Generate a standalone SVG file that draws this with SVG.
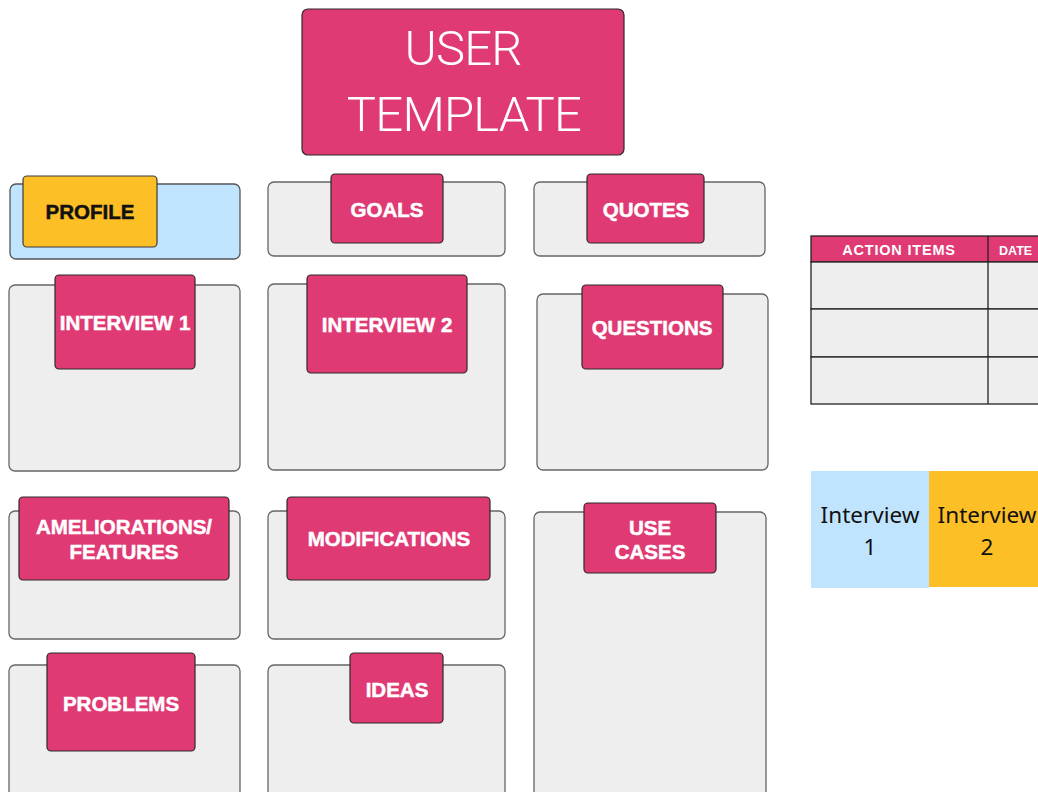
<svg xmlns="http://www.w3.org/2000/svg" width="1038" height="792" viewBox="0 0 1038 792">
  <style>
    .panel { fill: #eeeeee; stroke: #666666; stroke-width: 1.3; }
    .tab { fill: #e03a75; stroke: #2a2a2a; stroke-width: 1.2; }
    .lbl { font-family: "Liberation Sans", Arial, sans-serif; font-weight: 700; font-size: 20.5px; fill: #ffffff; stroke: #ffffff; stroke-width: 0.5; text-anchor: middle; }
    .title { font-family: Roboto, Inter, sans-serif; font-weight: 300; font-size: 49px; letter-spacing: -0.8px; fill: #ffffff; text-anchor: middle; }
    .legend { font-family: "Noto Sans", sans-serif; font-size: 22.5px; fill: #111111; text-anchor: middle; }
    .cell { fill: #eeeeee; stroke: #222222; stroke-width: 1.3; }
    .th { font-family: "Liberation Sans", Arial, sans-serif; font-weight: 700; fill: #ffffff; }
  </style>
  <rect width="1038" height="792" fill="#ffffff"/>

  <g id="title">
    <rect x="302" y="9" width="322" height="146" rx="6" class="tab"/>
    <text x="463" y="65" class="title">USER</text>
    <text x="464" y="131" class="title">TEMPLATE</text>
  </g>

  <g id="profile">
    <rect x="10" y="184" width="230" height="75" rx="6" fill="#c0e4fe" stroke="#555555" stroke-width="1.3"/>
    <rect x="23" y="176" width="134" height="71" rx="4" fill="#fdbf26" stroke="#3a3a3a" stroke-width="1.2"/>
    <text x="90" y="219" class="lbl" style="fill:#111111;stroke:#111111">PROFILE</text>
  </g>

  <g id="goals">
    <rect x="268" y="182" width="237" height="74" rx="6" class="panel"/>
    <rect x="331" y="174" width="112" height="69" rx="4" class="tab"/>
    <text x="387" y="217" class="lbl">GOALS</text>
  </g>

  <g id="quotes">
    <rect x="534" y="182" width="231" height="74" rx="6" class="panel"/>
    <rect x="587" y="174" width="117" height="69" rx="4" class="tab"/>
    <text x="646" y="217" class="lbl">QUOTES</text>
  </g>

  <g id="interview1">
    <rect x="9" y="285" width="231" height="186" rx="6" class="panel"/>
    <rect x="55" y="275" width="140" height="94" rx="4" class="tab"/>
    <text x="125" y="330" class="lbl">INTERVIEW 1</text>
  </g>

  <g id="interview2">
    <rect x="268" y="284" width="237" height="186" rx="6" class="panel"/>
    <rect x="307" y="275" width="160" height="98" rx="4" class="tab"/>
    <text x="387" y="332" class="lbl">INTERVIEW 2</text>
  </g>

  <g id="questions">
    <rect x="537" y="294" width="231" height="176" rx="6" class="panel"/>
    <rect x="582" y="285" width="141" height="84" rx="4" class="tab"/>
    <text x="652" y="335" class="lbl">QUESTIONS</text>
  </g>

  <g id="ameliorations">
    <rect x="9" y="511" width="231" height="128" rx="6" class="panel"/>
    <rect x="19" y="497" width="210" height="83" rx="4" class="tab"/>
    <text x="124" y="534" class="lbl">AMELIORATIONS/</text>
    <text x="124" y="559" class="lbl">FEATURES</text>
  </g>

  <g id="modifications">
    <rect x="268" y="511" width="237" height="128" rx="6" class="panel"/>
    <rect x="287" y="497" width="203" height="83" rx="4" class="tab"/>
    <text x="389" y="546" class="lbl">MODIFICATIONS</text>
  </g>

  <g id="use-cases">
    <rect x="534" y="512" width="232" height="286" rx="6" class="panel"/>
    <rect x="584" y="503" width="132" height="70" rx="4" class="tab"/>
    <text x="650" y="535" class="lbl">USE</text>
    <text x="650" y="559" class="lbl">CASES</text>
  </g>

  <g id="problems">
    <rect x="9" y="665" width="231" height="140" rx="6" class="panel"/>
    <rect x="47" y="653" width="148" height="98" rx="4" class="tab"/>
    <text x="121" y="711" class="lbl">PROBLEMS</text>
  </g>

  <g id="ideas">
    <rect x="268" y="665" width="237" height="140" rx="6" class="panel"/>
    <rect x="350" y="653" width="93" height="70" rx="4" class="tab"/>
    <text x="397" y="697" class="lbl">IDEAS</text>
  </g>

  <g id="action-items">
    <rect x="811" y="236" width="240" height="26" fill="#e03a75" stroke="#222222" stroke-width="1.3"/>
    <rect x="811" y="262" width="240" height="47" class="cell"/>
    <rect x="811" y="309" width="240" height="48" class="cell"/>
    <rect x="811" y="357" width="240" height="47" class="cell"/>
    <line x1="988" y1="236" x2="988" y2="404" stroke="#222222" stroke-width="1.3"/>
    <text x="899" y="255" class="th" font-size="14.5" letter-spacing="0.8" text-anchor="middle">ACTION ITEMS</text>
    <text x="999" y="255" class="th" font-size="12.5">DATE</text>
  </g>

  <g id="legend">
    <rect x="811" y="471" width="118" height="117" fill="#c0e4fe"/>
    <rect x="929" y="471" width="115" height="116" fill="#fdbf26"/>
    <text x="870" y="523" class="legend">Interview</text>
    <text x="870" y="555" class="legend">1</text>
    <text x="987" y="523" class="legend">Interview</text>
    <text x="987" y="555" class="legend">2</text>
  </g>
</svg>
